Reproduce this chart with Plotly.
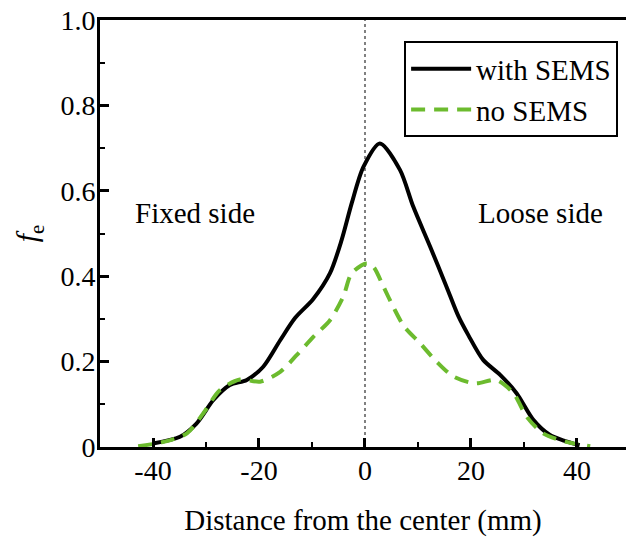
import plotly.graph_objects as go

# with SEMS (black solid)
x_with = [-40, -34.9, -31.8, -28.6, -25.5, -22.3, -19.2, -16, -13.2, -9.8, -6.6, -4.4, -2.5, -0.3, 2.8,
          6.6, 9.1, 12.3, 15.4, 17.6, 19.5, 22.3, 25.5, 28.6, 31.8, 34.9, 37.5, 40.5]
y_with = [0.008, 0.024, 0.055, 0.11, 0.145, 0.157, 0.188, 0.25, 0.302, 0.346, 0.407, 0.485, 0.571, 0.656, 0.711,
          0.649, 0.563, 0.469, 0.375, 0.307, 0.262, 0.204, 0.169, 0.126, 0.063, 0.028, 0.015, 0.004]

# no SEMS (green dashed)
x_no = [-42.8, -38, -33.6, -30.5, -27.4, -23.6, -19.8, -16, -12.9, -9.75, -6.6, -4.1, -2.5, 0.3, 1.6,
        3.5, 5.3, 7.4, 10.4, 13.5, 16.7, 20.8, 24.8, 28, 30.5, 33.6, 38, 42.5]
y_no = [0.002, 0.012, 0.032, 0.079, 0.133, 0.158, 0.153, 0.176, 0.215, 0.258, 0.297, 0.352, 0.407, 0.43, 0.422,
        0.375, 0.329, 0.282, 0.243, 0.2, 0.165, 0.149, 0.157, 0.126, 0.071, 0.032, 0.012, 0.002]

x_tickvals = [-40, -20, 0, 20, 40]
x_ticktext = ["-40", "-20", "0", "20", "40"]
y_tickvals = [0, 0.2, 0.4, 0.6, 0.8, 1.0]
y_ticktext = ["0", "0.2", "0.4", "0.6", "0.8", "1.0"]

FONT = "Times New Roman, Liberation Serif, serif"
GREEN = "rgb(108,187,46)"

fig = go.Figure()
fig.add_trace(go.Scatter(x=x_with, y=y_with, mode="lines", name="with SEMS",
                         line=dict(color="black", width=4, shape="spline", smoothing=0.8)))
fig.add_trace(go.Scatter(x=x_no, y=y_no, mode="lines", name="no SEMS",
                         line=dict(color=GREEN, width=4, dash="14px,9px", shape="spline", smoothing=0.8)))

fig.add_shape(type="line", xref="x", yref="paper", x0=0, x1=0, y0=0, y1=1,
              line=dict(color="gray", width=2, dash="dot"), layer="below")

fig.add_annotation(x=-32, y=0.548, text="Fixed side", showarrow=False,
                   font=dict(family=FONT, size=29, color="black"))
fig.add_annotation(x=33.2, y=0.548, text="Loose side", showarrow=False,
                   font=dict(family=FONT, size=29, color="black"))

fig.update_layout(
    width=626, height=539,
    margin=dict(l=100, r=0, t=20, b=92),
    paper_bgcolor="white", plot_bgcolor="white",
    font=dict(family=FONT, size=28, color="black"),
    showlegend=True,
    legend=dict(x=0.985, y=0.95, xanchor="right", yanchor="top",
                bordercolor="black", borderwidth=2, bgcolor="white",
                font=dict(family=FONT, size=29), tracegroupgap=0, itemwidth=60),
    xaxis=dict(range=[-50, 49.25], showgrid=False, zeroline=False,
               showline=True, linecolor="black", linewidth=3, mirror=True,
               ticks="inside", ticklen=9, tickwidth=3, tickcolor="black",
               tickvals=x_tickvals, ticktext=x_ticktext,
               minor=dict(dtick=10, tick0=0, ticks="inside", ticklen=5, tickwidth=2, tickcolor="black"),
               tickfont=dict(family=FONT, size=28), ticklabelstandoff=-4,
               title=dict(text="Distance from the center (mm)", font=dict(family=FONT, size=29), standoff=26)),
    yaxis=dict(range=[0, 1.0], showgrid=False, zeroline=False,
               showline=True, linecolor="black", linewidth=3, mirror=False,
               ticks="inside", ticklen=9, tickwidth=3, tickcolor="black",
               tickvals=y_tickvals, ticktext=y_ticktext,
               minor=dict(dtick=0.1, tick0=0, ticks="inside", ticklen=5, tickwidth=2, tickcolor="black"),
               tickfont=dict(family=FONT, size=28), ticklabelstandoff=-4,
               title=dict(text="<i>f</i><sub>e</sub>", font=dict(family=FONT, size=30), standoff=14)),
)

fig.write_html("out.html")
